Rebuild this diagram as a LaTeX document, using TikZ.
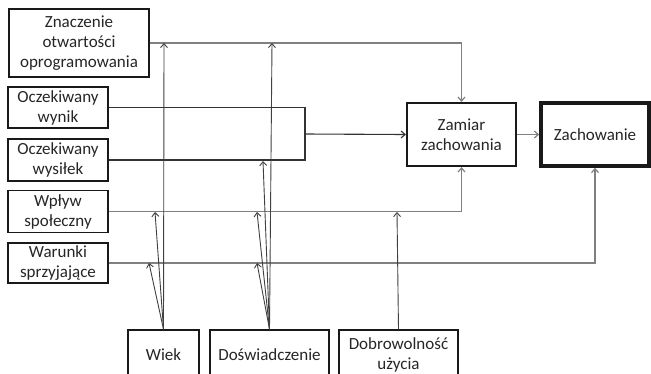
\documentclass[tikz,border=0pt]{standalone}
\usepackage{fontspec}
\setmainfont{Carlito}
\usetikzlibrary{arrows.meta}
\begin{document}
\begin{tikzpicture}[x=1pt,y=-1pt,
  box/.style={draw=black!90,line width=1.5pt,fill=white,align=center,inner sep=0pt,
    font=\fontsize{17}{20}\selectfont,text=black!85},
  gline/.style={draw=black!50,line width=1.2pt},
  dline/.style={draw=black!80,line width=1.1pt},
  sline/.style={draw=black!75,line width=0.9pt},
  tip/.style={-{Straight Barb[length=4pt,width=7pt]}},
]
\useasboundingbox (0,0) rectangle (651,373);
\clip (0,0) rectangle (651,373);
\fill[white] (0,0) rectangle (651,373);

\node[box,minimum width=140,minimum height=68] (zn) at (79,43) {Znaczenie\\otwartości\\oprogramowania};
\node[box,minimum width=100,minimum height=41] (wy) at (58,107.5) {Oczekiwany\\wynik};
\node[box,minimum width=100,minimum height=42] (ws) at (58,160) {Oczekiwany\\wysiłek};
\node[box,minimum width=100,minimum height=42] (wp) at (58,211.5) {Wpływ\\społeczny};
\node[box,minimum width=100,minimum height=40] (wa) at (58,263) {Warunki\\sprzyjające};
\node[box,line width=2.2pt,minimum width=109,minimum height=63] (zam) at (461.5,134.5) {Zamiar\\zachowania};
\node[box,line width=3.6pt,minimum width=108,minimum height=63] (zach) at (595,134.5) {Zachowanie};
\node[box,minimum width=71,minimum height=50] (wiek) at (163.5,355) {Wiek};
\node[box,minimum width=119,minimum height=50] (dos) at (269.5,355) {Doświadczenie};
\node[box,minimum width=119,minimum height=50] (dob) at (398.5,355) {Dobrowolność\\użycia};

% junction coordinates
\coordinate (br) at (305,134);
\coordinate (wi1) at (164,43);
\coordinate (wi2) at (155,212);
\coordinate (wi3) at (149,263);
\coordinate (do1) at (272,43);
\coordinate (do2) at (263,161);
\coordinate (do3) at (257,212);
\coordinate (do4) at (257,263);
\coordinate (db1) at (397,212);

% main connectors
\draw[gline,tip] (zn.east) -- (zn.east -| zam.north) -- (zam.north);
\draw[dline] (wy.east) -- (wy.east -| br) -- (ws.east -| br) -- (ws.east);
\draw[dline,tip] (br) -- (zam.west);
\draw[gline,tip] (zam.east) -- (zach.west);
\draw[gline,tip] (wp.east) -- (wp.east -| zam.south) -- (zam.south);
\draw[gline,tip] (wa.east) -- (wa.east -| zach.south) -- (zach.south);

% moderators
\draw[sline,tip] (wiek.north) -- (wi1);
\draw[sline,tip] (wiek.north) -- (wi2);
\draw[sline,tip] (wiek.north) -- (wi3);
\draw[sline,tip] (dos.north) -- (do1);
\draw[sline,tip] (dos.north) -- (do2);
\draw[sline,tip] (dos.north) -- (do3);
\draw[sline,tip] (dos.north) -- (do4);
\draw[sline,tip] (dob.north) -- (db1);
\end{tikzpicture}
\end{document}
